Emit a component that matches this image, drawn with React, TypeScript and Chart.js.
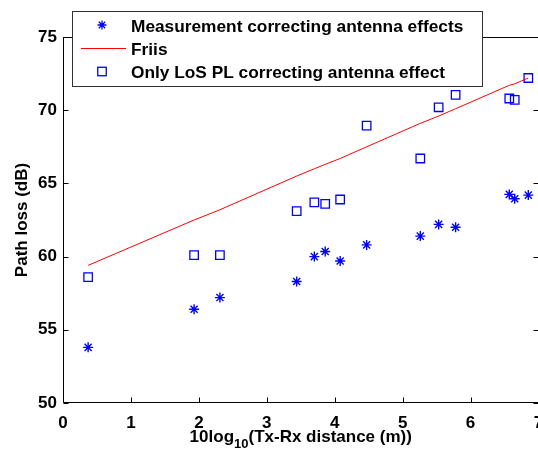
import React, { useEffect, useRef } from "react";
import { Chart, registerables } from "chart.js";

Chart.register(...registerables);

// 10log10 of the Tx-Rx separation (m) for each measured link
const distances = [0.37, 1.93, 2.31, 3.44, 3.7, 3.86, 4.08, 4.47, 5.26, 5.53, 5.78, 6.57, 6.65, 6.85];
// Path loss with antenna effects removed (dB)
const measuredLoss = [53.8, 56.4, 57.2, 58.3, 60.0, 60.35, 59.7, 60.8, 61.4, 62.2, 62.0, 64.25, 63.95, 64.2];
// Free-space (Friis) prediction (dB)
const friisLoss = [59.4, 62.5, 63.2, 65.5, 66.0, 66.3, 66.7, 67.5, 69.1, 69.6, 70.1, 71.7, 71.8, 72.2];
// LoS-only path loss with antenna effect removed (dB)
const losOnlyLoss = [58.6, 60.1, 60.1, 63.1, 63.7, 63.6, 63.9, 68.95, 66.7, 70.2, 71.05, 70.8, 70.7, 72.2];

const xTicks = [0, 1, 2, 3, 4, 5, 6, 7];
const yTicks = [50, 55, 60, 65, 70, 75];

const legendLabels = [
  "Measurement correcting antenna effects",
  "Friis",
  "Only LoS PL correcting antenna effect",
];
const yTitle = "Path loss (dB)";
const xTitleParts = ["10log", "10", "(Tx-Rx distance (m))"];

const FONT = '"Liberation Sans", Arial, Helvetica, sans-serif';
const BLUE = "#0000ff";
const RED = "#ff0000";
const CANVAS_W = 560;
const CANVAS_H = 452;

const toPoints = (ys: number[]) => distances.map((x, i) => ({ x, y: ys[i] }));

function drawStar(ctx: CanvasRenderingContext2D, x: number, y: number, r: number) {
  const d = r * Math.SQRT1_2;
  ctx.beginPath();
  ctx.moveTo(x - r, y);
  ctx.lineTo(x + r, y);
  ctx.moveTo(x, y - r);
  ctx.lineTo(x, y + r);
  ctx.moveTo(x - d, y - d);
  ctx.lineTo(x + d, y + d);
  ctx.moveTo(x - d, y + d);
  ctx.lineTo(x + d, y - d);
  ctx.stroke();
}

// Axes box with inward ticks, axis titles and the boxed legend
const framePlugin = {
  id: "frame",
  afterDraw(chart: any) {
    const ctx: CanvasRenderingContext2D = chart.ctx;
    const { left, right, top, bottom } = chart.chartArea;
    const xs = chart.scales.x;
    const ys = chart.scales.y;
    const L = Math.round(left) + 0.5;
    const R = Math.round(right) - 0.5;
    const T = Math.round(top) + 0.5;
    const B = Math.round(bottom) - 0.5;
    const tick = 5;

    ctx.save();
    ctx.strokeStyle = "#000";
    ctx.lineWidth = 1;
    ctx.beginPath();
    ctx.rect(L, T, R - L, B - T);
    for (const v of xTicks) {
      const px = Math.round(xs.getPixelForValue(v)) + 0.5;
      ctx.moveTo(px, B);
      ctx.lineTo(px, B - tick);
      ctx.moveTo(px, T);
      ctx.lineTo(px, T + tick);
    }
    for (const v of yTicks) {
      const py = Math.round(ys.getPixelForValue(v)) + 0.5;
      ctx.moveTo(L, py);
      ctx.lineTo(L + tick, py);
      ctx.moveTo(R, py);
      ctx.lineTo(R - tick, py);
    }
    ctx.stroke();

    // axis titles
    ctx.fillStyle = "#000";
    ctx.font = `bold 17px ${FONT}`;
    ctx.textBaseline = "alphabetic";
    ctx.save();
    ctx.translate(27, (top + bottom) / 2);
    ctx.rotate(-Math.PI / 2);
    ctx.textAlign = "center";
    ctx.fillText(yTitle, 0, 0);
    ctx.restore();

    const subFont = `bold 13px ${FONT}`;
    const mainFont = `bold 17px ${FONT}`;
    ctx.font = mainFont;
    const w1 = ctx.measureText(xTitleParts[0]).width;
    const w3 = ctx.measureText(xTitleParts[2]).width;
    ctx.font = subFont;
    const w2 = ctx.measureText(xTitleParts[1]).width;
    const total = w1 + w2 + w3;
    let tx = (left + right) / 2 - total / 2;
    const baseY = 442;
    ctx.textAlign = "left";
    ctx.font = mainFont;
    ctx.fillText(xTitleParts[0], tx, baseY);
    tx += w1;
    ctx.font = subFont;
    ctx.fillText(xTitleParts[1], tx, baseY + 6);
    tx += w2;
    ctx.font = mainFont;
    ctx.fillText(xTitleParts[2], tx, baseY);

    // legend
    const bx = 72.5;
    const by = 11.5;
    const bw = 410;
    const bh = 75;
    ctx.fillStyle = "#fff";
    ctx.fillRect(bx, by, bw, bh);
    ctx.strokeStyle = "#333";
    ctx.strokeRect(bx, by, bw, bh);

    const rowsY = [25, 48, 71.5];
    const markerX = 102;
    // star entry
    ctx.strokeStyle = BLUE;
    ctx.lineWidth = 1.3;
    drawStar(ctx, markerX, rowsY[0], 4.5);
    // line entry
    ctx.strokeStyle = RED;
    ctx.lineWidth = 1;
    ctx.beginPath();
    ctx.moveTo(81, rowsY[1] + 0.5);
    ctx.lineTo(126, rowsY[1] + 0.5);
    ctx.stroke();
    // square entry
    ctx.strokeStyle = BLUE;
    ctx.lineWidth = 1.3;
    ctx.strokeRect(markerX - 4.25, rowsY[2] - 4.25, 8.5, 8.5);

    ctx.fillStyle = "#000";
    ctx.font = `bold 17.3px ${FONT}`;
    ctx.textAlign = "left";
    legendLabels.forEach((label, i) => {
      ctx.fillText(label, 131, rowsY[i] + 6.5);
    });
    ctx.restore();
  },
};

function PathLossChart() {
  const canvasRef = useRef<HTMLCanvasElement | null>(null);

  useEffect(() => {
    if (!canvasRef.current) return;
    const chart = new Chart(canvasRef.current, {
      type: "scatter",
      data: {
        datasets: [
          {
            label: legendLabels[0],
            data: toPoints(measuredLoss),
            pointStyle: "star",
            pointRadius: 5,
            borderColor: BLUE,
            backgroundColor: BLUE,
            borderWidth: 1.4,
          },
          {
            label: legendLabels[1],
            type: "line",
            data: toPoints(friisLoss),
            showLine: true,
            pointRadius: 0,
            borderColor: RED,
            borderWidth: 1,
            fill: false,
            tension: 0,
          },
          {
            label: legendLabels[2],
            data: toPoints(losOnlyLoss),
            pointStyle: "rect",
            pointRadius: 6,
            borderColor: BLUE,
            backgroundColor: "rgba(0,0,0,0)",
            borderWidth: 1.3,
          },
        ],
      } as any,
      options: {
        responsive: false,
        maintainAspectRatio: false,
        animation: false,
        devicePixelRatio: 1,
        layout: { padding: { left: 0, top: 37, right: CANVAS_W - 538.5, bottom: 0 } },
        plugins: {
          legend: { display: false },
          tooltip: { enabled: false },
        },
        scales: {
          x: {
            type: "linear",
            min: 0,
            max: 7,
            grid: { display: false, drawTicks: false },
            border: { display: false },
            ticks: {
              stepSize: 1,
              padding: 10,
              color: "#000",
              font: { family: FONT, size: 17, weight: "bold" },
              maxRotation: 0,
            },
            afterFit: (s: any) => {
              s.height = 49;
            },
          },
          y: {
            type: "linear",
            min: 50,
            max: 75,
            grid: { display: false, drawTicks: false },
            border: { display: false },
            ticks: {
              stepSize: 5,
              padding: 6,
              color: "#000",
              font: { family: FONT, size: 17, weight: "bold" },
            },
            afterFit: (s: any) => {
              s.width = 63;
            },
          },
        },
      } as any,
      plugins: [framePlugin],
    });
    return () => chart.destroy();
  }, []);

  return (
    <div
      style={{
        position: "fixed",
        left: 0,
        top: 0,
        width: 538,
        height: 452,
        overflow: "hidden",
        background: "#fff",
      }}
    >
      <canvas ref={canvasRef} width={CANVAS_W} height={CANVAS_H} style={{ display: "block" }} />
    </div>
  );
}

export default function App() {
  return <PathLossChart />;
}
